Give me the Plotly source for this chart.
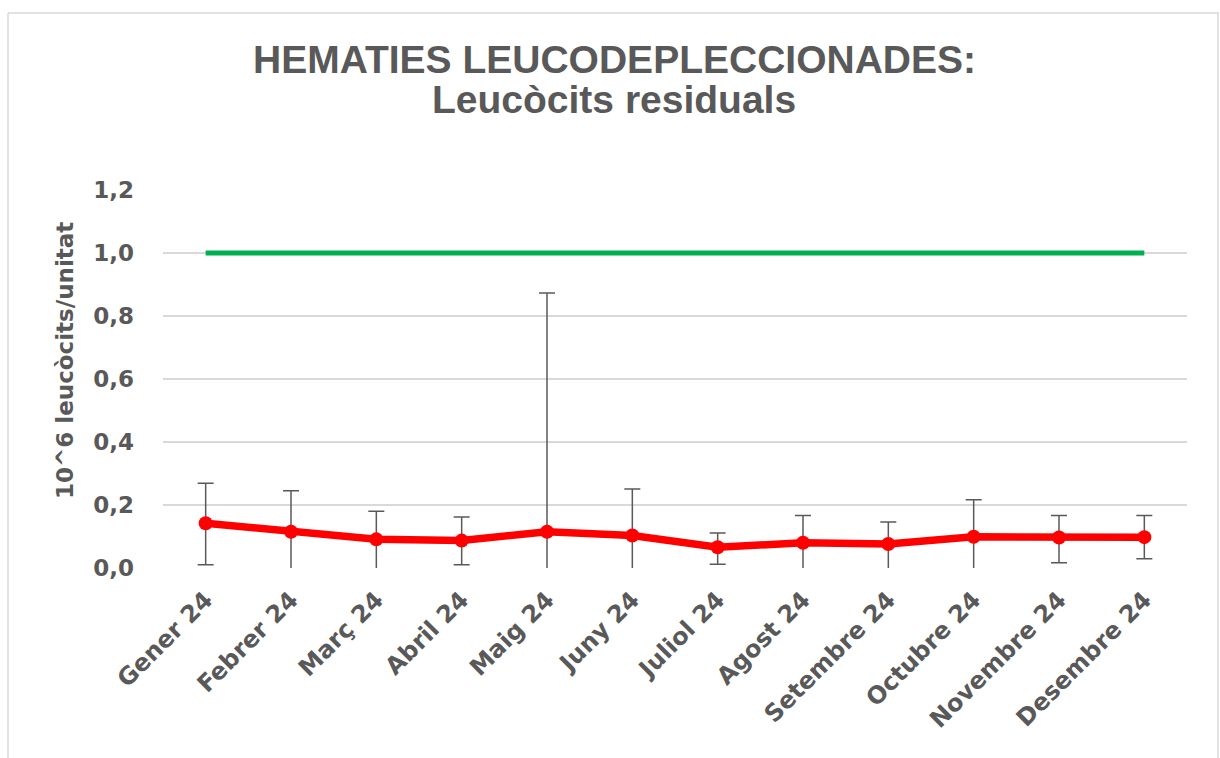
import plotly.graph_objects as go

months = ["Gener 24", "Febrer 24", "Març 24", "Abril 24", "Maig 24", "Juny 24",
          "Juliol 24", "Agost 24", "Setembre 24", "Octubre 24", "Novembre 24", "Desembre 24"]
mean_values = [0.142, 0.115, 0.091, 0.087, 0.115, 0.103, 0.066, 0.080, 0.076, 0.099, 0.097, 0.098]
err_plus = [0.127, 0.130, 0.089, 0.075, 0.758, 0.148, 0.045, 0.087, 0.070, 0.118, 0.070, 0.069]
err_minus = [0.132, 0.130, 0.110, 0.077, 0.758, 0.148, 0.054, 0.100, 0.090, 0.118, 0.080, 0.069]
limit_values = [1.0] * 12
y_ticks = [0.0, 0.2, 0.4, 0.6, 0.8, 1.0, 1.2]
y_tick_text = ["0,0", "0,2", "0,4", "0,6", "0,8", "1,0", "1,2"]

TXT = "#595959"
FONT = "DejaVu Sans"
TFONT = "Liberation Sans, Arial"

fig = go.Figure()
fig.add_trace(go.Scatter(
    x=months, y=limit_values, mode="lines",
    line=dict(color="#00B050", width=5), hoverinfo="skip", showlegend=False))
fig.add_trace(go.Scatter(
    x=months, y=mean_values, mode="lines+markers",
    line=dict(color="#FF0000", width=7.5),
    marker=dict(color="#FF0000", size=14),
    error_y=dict(type="data", array=err_plus, arrayminus=err_minus, symmetric=False,
                 color="#595959", thickness=1.5, width=8),
    showlegend=False))

L, R, T, B = 163, 33, 190, 190
W, H = 1220, 758
pw, ph = W - L - R, H - T - B

def px(xp):
    return (xp - L) / pw

def py(yp):
    return (H - B - yp) / ph

fig.update_layout(
    width=W, height=H,
    margin=dict(l=L, r=R, t=T, b=B),
    paper_bgcolor="white", plot_bgcolor="white",
    xaxis=dict(
        type="category", categoryorder="array", categoryarray=months,
        range=[-0.5, 11.5], autorange=False,
        tickangle=-45, showgrid=False, showline=False, zeroline=False,
        ticks="", ticklen=0, ticklabelstandoff=12,
        tickfont=dict(family=FONT, size=24, color=TXT, weight="bold")),
    yaxis=dict(
        range=[0, 1.2], tickvals=y_ticks, ticktext=y_tick_text,
        showgrid=True, gridcolor="#D9D9D9", gridwidth=1.5,
        zeroline=False, showline=False, ticks="", ticklabelstandoff=28,
        tickfont=dict(family=FONT, size=23, color=TXT, weight="bold")),
    annotations=[
        dict(text="HEMATIES LEUCODEPLECCIONADES:", xref="paper", yref="paper",
             x=px(614), y=py(59), xanchor="center", yanchor="middle", showarrow=False,
             font=dict(family=TFONT, size=39, color=TXT, weight="bold")),
        dict(text="Leucòcits residuals", xref="paper", yref="paper",
             x=px(614), y=py(100), xanchor="center", yanchor="middle", showarrow=False,
             font=dict(family=TFONT, size=39, color=TXT, weight="bold")),
        dict(text="10^6 leucòcits/unitat", xref="paper", yref="paper", textangle=-90,
             x=px(65), y=py(361), xanchor="center", yanchor="middle", showarrow=False,
             font=dict(family=FONT, size=23, color=TXT, weight="bold")),
    ],
    shapes=[
        dict(type="line", xref="paper", yref="paper", x0=px(8), x1=px(8), y0=py(13), y1=py(758),
             line=dict(color="#D9D9D9", width=1.5)),
        dict(type="line", xref="paper", yref="paper", x0=px(8), x1=px(1219), y0=py(13), y1=py(13),
             line=dict(color="#D9D9D9", width=1.5)),
        dict(type="line", xref="paper", yref="paper", x0=px(1218), x1=px(1218), y0=py(13), y1=py(758),
             line=dict(color="#D9D9D9", width=1.5)),
    ],
)

fig.write_html("out.html",
               config={"displayModeBar": False},
               post_script="document.body.style.margin='0px';document.body.style.overflow='hidden';")
